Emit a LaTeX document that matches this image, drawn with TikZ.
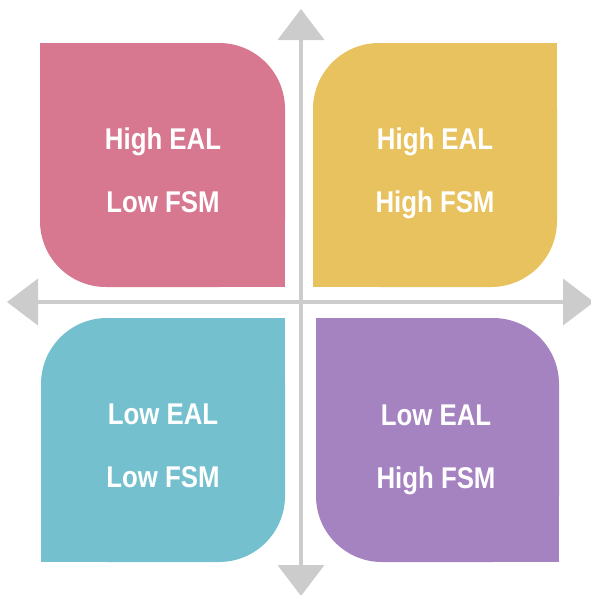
\documentclass[tikz,border=0pt]{standalone}
\usepackage{fontspec}
\setsansfont{Liberation Sans}[FakeStretch=0.86]
\usetikzlibrary{arrows.meta}
\definecolor{leafpink}{HTML}{D77890}
\definecolor{leafgold}{HTML}{E8C25E}
\definecolor{leafteal}{HTML}{75C0CF}
\definecolor{leafplum}{HTML}{A582C0}
\definecolor{axisgray}{HTML}{CCCCCC}
\newcommand{\rr}{66pt} % radius of the round corners
\newcommand{\drawleaf}[4] {
  \fill[#1, rounded corners=\rr] #2 rectangle #3; % the leaf, all corners round
  \foreach \xa/\ya/\xb/\yb in #4 {
    \fill[#1] (\xa,\ya) rectangle (\xb,\yb); % square off two corners
  }
}
\tikzset{
  quadlabel/.style={text=white, align=center,
    font=\sffamily\bfseries\fontsize{30}{63}\selectfont},
  axis/.style={draw=axisgray, line width=4pt,
    {Triangle[width=46pt, length=31pt]}-{Triangle[width=46pt, length=31pt]}}
}

\begin{document}
\begin{tikzpicture}[x=1pt, y=-1pt]
    \useasboundingbox (0,0) rectangle (591,595);
    \coordinate (west) at (7,302);
    \coordinate (east) at (594,302);
    \coordinate (north) at (301,9);
    \coordinate (south) at (301,596);
    \draw[axis] (west) -- (east);
    \draw[axis] (north) -- (south);
    \drawleaf{leafpink}{(40,43)}{(285,287)}{{40/43/120/123, 285/287/205/207}}
    \drawleaf{leafgold}{(313,43)}{(557,287)}{{557/43/477/123, 313/287/393/207}}
    \drawleaf{leafteal}{(41,318)}{(285,562)}{{285/318/205/398, 41/562/121/482}}
    \drawleaf{leafplum}{(316,318)}{(559,562)}{{316/318/396/398, 559/562/479/482}}
    \node[quadlabel] (highlow) at (163,170) {High EAL\\Low FSM};
    \node[quadlabel] (highhigh) at (435,173.5) {High EAL\\High FSM};
    \node[quadlabel] (lowlow) at (163,446) {Low EAL\\Low FSM};
    \node[quadlabel] (lowhigh) at (436,449.5) {Low EAL\\High FSM};
  \end{tikzpicture}
\end{document}
